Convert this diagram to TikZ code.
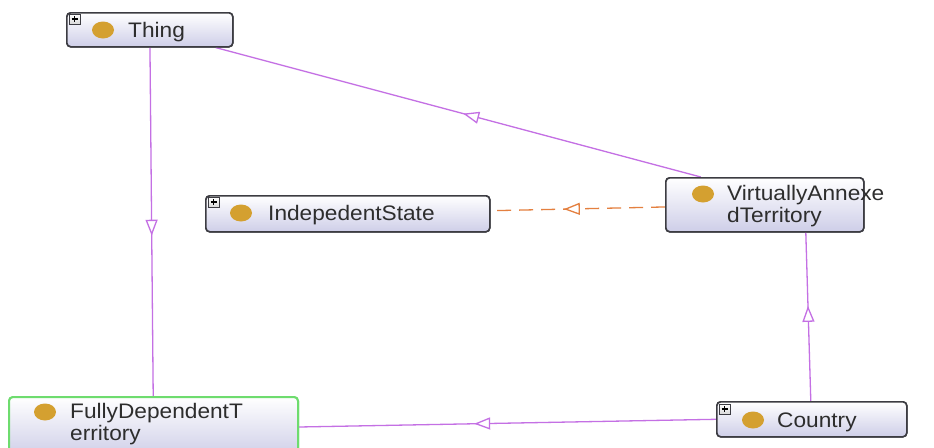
\documentclass[tikz,border=0pt]{standalone}
\usepackage{fontspec}
\setmainfont{Liberation Sans}[FakeStretch=1.08]
\usetikzlibrary{arrows.meta,decorations.markings,calc}
\definecolor{edgecol}{RGB}{196,112,228}
\definecolor{dashcol}{RGB}{228,128,64}
\definecolor{boxborder}{RGB}{60,60,66}
\definecolor{boxbottom}{RGB}{206,206,232}
\definecolor{dotcol}{RGB}{212,160,48}
\definecolor{greenborder}{RGB}{110,220,110}
\definecolor{textcol}{RGB}{45,45,45}
\tikzset{
  classbox/.style={draw=boxborder, line width=1.6pt, rounded corners=4pt,
    top color=white, bottom color=boxbottom, anchor=north west, inner sep=0pt},
  classdot/.style={fill=dotcol},
  labeltext/.style={anchor=base west, inner sep=0pt, text=textcol, align=left},
  plusicon/.style={draw=boxborder, line width=0.9pt, top color=white, bottom color=black!15},
  midtri/.style={postaction={decorate}, decoration={markings,
    mark=at position #1 with {\arrow[line width=1.3pt, solid]{Triangle[open, fill=white, length=16pt, width=12pt]}}}},
  subline/.style={draw=edgecol, line width=1.3pt},
  disjline/.style={draw=dashcol, line width=1.3pt, dash pattern=on 14pt off 8pt},
}
\newcommand{\plusmark}[2]{%
  \draw[plusicon] (#1,#2) rectangle ++(11,10);
  \draw[line width=1.4pt, black] (#1+2.5,#2+5) -- ++(6,0) (#1+5.5,#2+2) -- ++(0,6);}
\begin{document}
\begin{tikzpicture}[x=1pt, y=-1pt, font=\fontsize{21}{21.5}\selectfont]
\useasboundingbox (0,0) rectangle (934,447);
\clip (0,0) rectangle (934,447);
\fill[white] (0,0) rectangle (934,447);

% boxes (named, used as edge ends)
\node[classbox, minimum width=166pt, minimum height=34pt] (thing) at (66,12) {};
\node[classbox, minimum width=284pt, minimum height=36pt] (is) at (205,195) {};
\node[classbox, minimum width=198pt, minimum height=54pt] (vat) at (665,177) {};
\node[classbox, draw=greenborder, line width=2pt, minimum width=289pt, minimum height=60pt] (fdt) at (8,396) {};
\node[classbox, minimum width=190pt, minimum height=35pt] (country) at (716,401) {};

% edges
\draw[subline, midtri=0.49] ([xshift=-64pt]vat.north) -- ([xshift=66pt]thing.south);
\draw[subline, midtri=0.54] (thing) -- (fdt);
\draw[disjline, midtri=0.58] (vat) -- (is);
\draw[subline, midtri=0.565] ([xshift=-1pt]country.north) -- ([xshift=41pt]vat.south);
\draw[subline, midtri=0.58] (country.west) -- (fdt.east);

% redraw boxes on top of the edges
\node[classbox, minimum width=166pt, minimum height=34pt] at (66,12) {};
\node[classbox, minimum width=284pt, minimum height=36pt] at (205,195) {};
\node[classbox, minimum width=198pt, minimum height=54pt] at (665,177) {};
\node[classbox, draw=greenborder, line width=2pt, minimum width=289pt, minimum height=60pt] at (8,396) {};
\node[classbox, minimum width=190pt, minimum height=35pt] at (716,401) {};

% Thing
\plusmark{69}{14}
\fill[classdot] (103,30) ellipse [x radius=11, y radius=8.5];
\node[labeltext] (thingtxt) at (128,37) {Thing};

% IndepedentState
\plusmark{208}{197}
\fill[classdot] (241,213) ellipse [x radius=11, y radius=8.5];
\node[labeltext] (istxt) at (268,220) {IndepedentState};

% VirtuallyAnnexedTerritory
\fill[classdot] (703,194) ellipse [x radius=11, y radius=8.5];
\node[labeltext] (vattxt) at (727,222) {VirtuallyAnnexe\\dTerritory};

% FullyDependentTerritory
\fill[classdot] (45,412) ellipse [x radius=11, y radius=8.5];
\node[labeltext] (fdttxt) at (70,440) {FullyDependentT\\erritory};

% Country
\plusmark{719}{404}
\fill[classdot] (753,420) ellipse [x radius=11, y radius=8.5];
\node[labeltext] (countrytxt) at (777,427) {Country};
\end{tikzpicture}
\end{document}
